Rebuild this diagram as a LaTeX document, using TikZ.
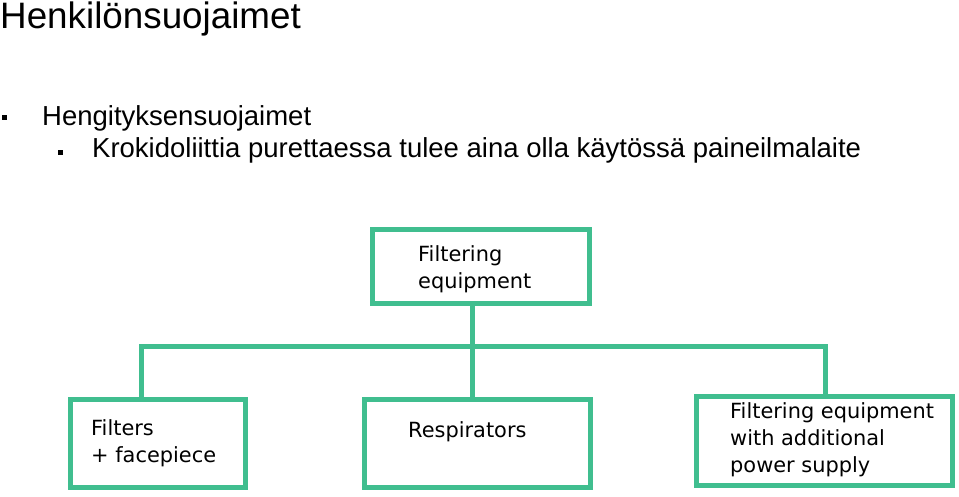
\documentclass[tikz,border=0pt]{standalone}
\usepackage{fontspec}
\setmainfont{Liberation Sans}
\newfontfamily\boxfont{DejaVu Sans}
\usetikzlibrary{positioning}
\definecolor{boxgreen}{RGB}{64,190,143}
\tikzset{
  box/.style={draw=boxgreen, line width=5pt, inner sep=0pt, fill=white},
  conn/.style={draw=boxgreen, line width=5pt},
  boxtext/.style={inner sep=0pt, anchor=base west, align=left,
    font=\boxfont\fontsize{20.9}{26.8}\selectfont},
  item/.style={inner sep=0pt, anchor=base west, font=\fontsize{27.5}{32}\selectfont},
  bullet/.style={fill=black, inner sep=0pt, minimum size=5.5pt},
}
\begin{document}
\begin{tikzpicture}[x=1pt, y=-1pt]
  \useasboundingbox (0,0) rectangle (959,496);
  % header and bullet list
  \node[inner sep=0pt, anchor=base west, font=\fontsize{36.8}{42}\selectfont] (title) at (0,28) {Henkilönsuojaimet};
  \node[bullet] (b1) at (4.5,117.5) {};
  \node[item] (l1) at (42,125) {Hengityksensuojaimet};
  \node[bullet] (b2) at (60.5,152.5) {};
  \node[item] (l2) at (92,157) {Krokidoliittia purettaessa tulee aina olla käytössä paineilmalaite};
  % tree
  \node[box, minimum width=217pt, minimum height=74pt] (filtering) at (481,266.5) {};
  \node[box, minimum width=175pt, minimum height=88pt] (filters) at (158,443.5) {};
  \node[box, minimum width=226pt, minimum height=88pt] (resp) at (477.5,443.5) {};
  \node[box, minimum width=256pt, minimum height=89pt] (power) at (824.5,441) {};
  \coordinate (busL) at (141,346);
  \coordinate (busM) at (472,346);
  \coordinate (busR) at (825,346);
  \draw[conn] (busM |- filtering.south) -- (busM |- resp.north);
  \draw[conn] (busL |- filters.north) -- (busL) -- (busR) -- (busR |- power.north);
  % box texts (base = last line)
  \node[boxtext] (t1) at (418,288) {Filtering\\equipment};
  \node[boxtext] (t2) at (91,462) {Filters\\+ facepiece};
  \node[boxtext] (t3) at (408,437) {Respirators};
  \node[boxtext] (t4) at (730,472) {Filtering equipment\\with additional\\power supply};
\end{tikzpicture}
\end{document}
